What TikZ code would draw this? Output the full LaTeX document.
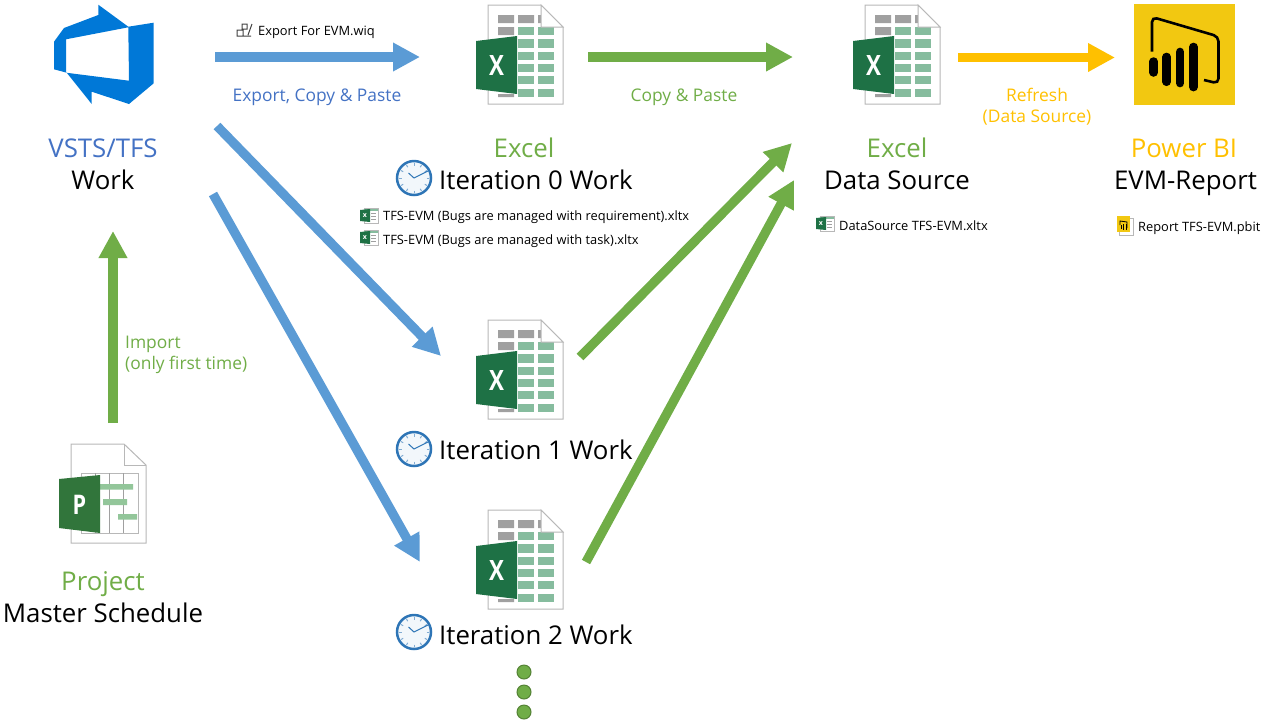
\documentclass[tikz,border=0pt]{standalone}
\usepackage{fontspec}
\usepackage{graphicx}
\setmainfont{Open Sans}
\usetikzlibrary{arrows.meta}
\definecolor{tfsblue}{HTML}{0078D7}
\definecolor{arrowblue}{HTML}{5B9BD5}
\definecolor{textblue}{HTML}{4472C4}
\definecolor{officegreen}{HTML}{70AD47}
\definecolor{gilded}{HTML}{FFC000}
\definecolor{excelgreen}{HTML}{1E7145}
\definecolor{cellgreen}{HTML}{86BC9E}
\definecolor{cellgrey}{HTML}{A0A0A0}
\definecolor{pagegrey}{HTML}{B8B8B8}
\definecolor{projgreen}{HTML}{31753B}
\definecolor{bargreen}{HTML}{93C69A}
\definecolor{pbiyellow}{HTML}{F2C811}
\definecolor{clockblue}{HTML}{2E75B6}

\begin{document}
\begin{tikzpicture}[
    x=1pt, y=-1pt,
    flow/.style={line width=9.3pt, -{Triangle[length=27pt, width=27pt]}},
    bigtxt/.style={font=\fontsize{25.8}{30}\selectfont, inner sep=0pt, anchor=base},
    midtxt/.style={font=\fontsize{17.4}{21}\selectfont, inner sep=0pt, align=left},
    smalltxt/.style={font=\fontsize{12.85}{15}\selectfont, inner sep=0pt, anchor=base west},
    page/.style={draw=pagegrey, line width=1pt, fill=white},
    moredot/.style={circle, fill=officegreen, draw=officegreen!75!black, line width=1pt, inner sep=0pt, minimum size=14pt},
    % ------- large spreadsheet, origin at the page corner
    pics/xlsicon/.style={code={
      \draw[page] (0,0) -- (53,0) -- (75,22) -- (75,99) -- (0,99) -- cycle;
      \fill[cellgrey] (10,10) rectangle (26,18) (30,10) rectangle (46,18) (50,10) rectangle (53,18) (10,22) rectangle (26,30) (10,89) rectangle (26,92);
      \foreach \y in {22,34.3,46.6,58.9,71.2,83.5} {
        \fill[cellgreen] (30,\y) rectangle (46,\y+8.2);
        \fill[cellgreen] (50,\y) rectangle (66,\y+8.2);
      }
      \draw[pagegrey, line width=1pt, fill=white] (53,0) -- (53,22) -- (75,22) -- cycle;
      \fill[excelgreen] (-12,36) -- (29,31) -- (29,89) -- (-12,84) -- cycle;
      \node[font=\fontsize{28}{28}\selectfont\bfseries, text=white, inner sep=0pt] at (8.5,60) {\scalebox{.8}[1]{X}};
    }},
    % ------- small spreadsheet file
    pics/xlsmini/.style={code={
      \fill[white, draw=pagegrey, line width=.7pt] (4,0.5) rectangle (18,15);
      \fill[cellgreen] (4,0.5) rectangle (18,2.5);
      \foreach \y in {5,8,11} { \draw[cellgrey, line width=1pt] (11,\y) -- (16,\y); }
      \fill[excelgreen] (0,2) -- (10,1) -- (10,14) -- (0,13) -- cycle;
      \node[font=\fontsize{7}{7}\selectfont\bfseries, text=white, inner sep=0pt] at (5,7.5) {x};
    }},
    % ------- clock, origin at the centre
    pics/clockicon/.style={code={
      \draw[clockblue, line width=2.5pt, fill=clockblue!6] (0,0) circle (17);
      \foreach \a in {0,30,...,330} {
        \draw[clockblue!60, line width=1pt] (\a:12.5) -- (\a:15);
      }
      \draw[clockblue, line width=1pt] (-5.5,-5) -- (0,0) -- (14,-7);
    }},
  ]
  \useasboundingbox (0,0) rectangle (1268,724);

  % ================= VSTS / TFS logo
  \fill[tfsblue, even odd rule]
    (98.3,4.7) -- (128.3,26.7) -- (153.7,22.7) -- (153.7,83.3) -- (129,104) -- (91.7,91.7) -- (91.7,104) -- (66.7,72.7) -- (54,69.3) -- (54,41.7) -- (64,28) -- (98.3,15) -- cycle
    (66,39.3) -- (128.3,27.3) -- (129,80.7) -- (66,72.7) -- cycle;
  \node[bigtxt, text=textblue] (tfstitle) at (103,157) {VSTS/TFS};
  \node[bigtxt] (tfswork) at (103,189) {Work};

  % ================= Project file
  \draw[page] (71,444) -- (124,444) -- (146,465) -- (146,543) -- (71,543) -- cycle;
  \draw[pagegrey, line width=1pt] (124,444) -- (124,465) -- (146,465);
  \draw[pagegrey, line width=1pt] (81,473) rectangle (138,533);
  \foreach \x in {95,109,123} { \draw[cellgrey, line width=1pt] (\x,473) -- (\x,533); }
  \fill[bargreen] (100,484) rectangle (133,489.5) (103,499) rectangle (127,505) (118,514) rectangle (137,519.5);
  \fill[projgreen] (59,479) -- (100,475) -- (100,533) -- (59,528) -- cycle;
  \node[font=\fontsize{27}{27}\selectfont\bfseries, text=white, inner sep=0pt] (projletter) at (79.5,504.5) {\scalebox{.8}[1]{P}};
  \node[bigtxt, text=officegreen] (projtitle) at (103,590) {Project};
  \node[bigtxt] (projname) at (103,622.5) {Master Schedule};

  % ================= spreadsheets
  \pic at (488,5) {xlsicon};
  \pic at (865,5) {xlsicon};
  \pic at (488,320) {xlsicon};
  \pic at (488,510) {xlsicon};
  \pic at (414,178) {clockicon};
  \pic at (414,449) {clockicon};
  \pic at (414,632) {clockicon};
  \node[bigtxt, text=officegreen] (zerotitle) at (524,157) {Excel};
  \node[bigtxt, anchor=base west] (zerowork) at (439,189) {Iteration 0 Work};
  \node[bigtxt, anchor=base west] (onework) at (439,459) {Iteration 1 Work};
  \node[bigtxt, anchor=base west] (twowork) at (439,644) {Iteration 2 Work};
  \node[bigtxt, text=officegreen] (sourcetitle) at (897,157) {Excel};
  \node[bigtxt] (sourcework) at (897,189) {Data Source};

  % ================= Power BI logo
  \fill[pbiyellow] (1134,4) rectangle (1235,105);
  \draw[black, line width=2.6pt, rounded corners=5pt]
    (1152,51.7) -- (1152,17) -- (1218.5,36.5) -- (1218.5,83.5) -- (1204,80);
  \foreach \x/\ya/\yb in {1153.6/57.3/76.7, 1166.6/52.7/86, 1180.1/47.7/87.3, 1193.5/42.7/91.3} {
    \draw[black, line width=8.5pt, line cap=round] (\x,\ya+4.2) -- (\x,\yb-4.2);
  }
  \node[bigtxt, text=gilded] (pbititle) at (1184,157) {Power BI};
  \node[bigtxt] (pbiname) at (1185.5,189) {EVM-Report};

  % ================= file names
  \pic at (360,208) {xlsmini};
  \pic at (360,230) {xlsmini};
  \pic at (816,216) {xlsmini};
  \node[smalltxt] (tplreq) at (383,220) {TFS-EVM (Bugs are managed with requirement).xltx};
  \node[smalltxt] (tpltask) at (383,244) {TFS-EVM (Bugs are managed with task).xltx};
  \node[smalltxt] (tplsource) at (839,230) {DataSource TFS-EVM.xltx};
  \node[smalltxt] (tplreport) at (1138,231) {Report TFS-EVM.pbit};
  \node[smalltxt] (wiqname) at (258,35) {Export For EVM.wiq};
  % query file glyph
  \draw[black!75, line width=1pt] (237,30) rectangle (243,36) (243,36) -- (251,36) (242,24) rectangle (247,29) (252,24) -- (248,35);
  % report file glyph
  \fill[white, draw=pagegrey, line width=.7pt] (1119,218) rectangle (1133.5,235);
  \fill[pbiyellow] (1117,216) rectangle (1130,232);
  \draw[black, line width=.8pt] (1120,225) -- (1120,221) -- (1127,222) -- (1127,228);
  \draw[black, line width=1pt] (1121,229) -- (1121,225) (1123.5,230) -- (1123.5,224) (1126,230) -- (1126,224);

  % ================= connectors
  \coordinate (tfsout) at (215,57);
  \coordinate (zeroin) at (420,57);
  \coordinate (tfsdiaga) at (217,126);
  \coordinate (onein) at (441,356);
  \coordinate (tfsdiagb) at (213,194);
  \coordinate (twoin) at (420,562);
  \coordinate (projout) at (113,423);
  \coordinate (tfsin) at (113,231);
  \coordinate (zeroout) at (588,57);
  \coordinate (sourcein) at (793,57);
  \coordinate (oneout) at (580,357);
  \coordinate (sourceina) at (792,143);
  \coordinate (twoout) at (586,562);
  \coordinate (sourceinb) at (794,180);
  \coordinate (sourceout) at (958,57.5);
  \coordinate (pbiin) at (1115,57.5);
  \draw[flow, arrowblue] (tfsout) -- (zeroin);
  \draw[flow, arrowblue] (tfsdiaga) -- (onein);
  \draw[flow, arrowblue] (tfsdiagb) -- (twoin);
  \draw[flow, officegreen] (projout) -- (tfsin);
  \draw[flow, officegreen] (zeroout) -- (sourcein);
  \draw[flow, officegreen] (oneout) -- (sourceina);
  \draw[flow, officegreen] (twoout) -- (sourceinb);
  \draw[flow, gilded] (sourceout) -- (pbiin);

  % ================= connector labels
  \node[midtxt, text=textblue, anchor=base] (exportlbl) at (317,101) {Export, Copy \& Paste};
  \node[midtxt, text=officegreen, anchor=base] (copylbl) at (684,101) {Copy \& Paste};
  \node[midtxt, text=gilded, align=center] (refreshlbl) at (1037,107) {Refresh\\(Data Source)};
  \node[midtxt, text=officegreen, anchor=west] (importlbl) at (125,355) {Import\\(only first time)};

  % ================= more iterations
  \foreach \y/\n in {672/a,692/b,712/c} { \node[moredot] (more\n) at (524,\y) {}; }
\end{tikzpicture}
\end{document}
